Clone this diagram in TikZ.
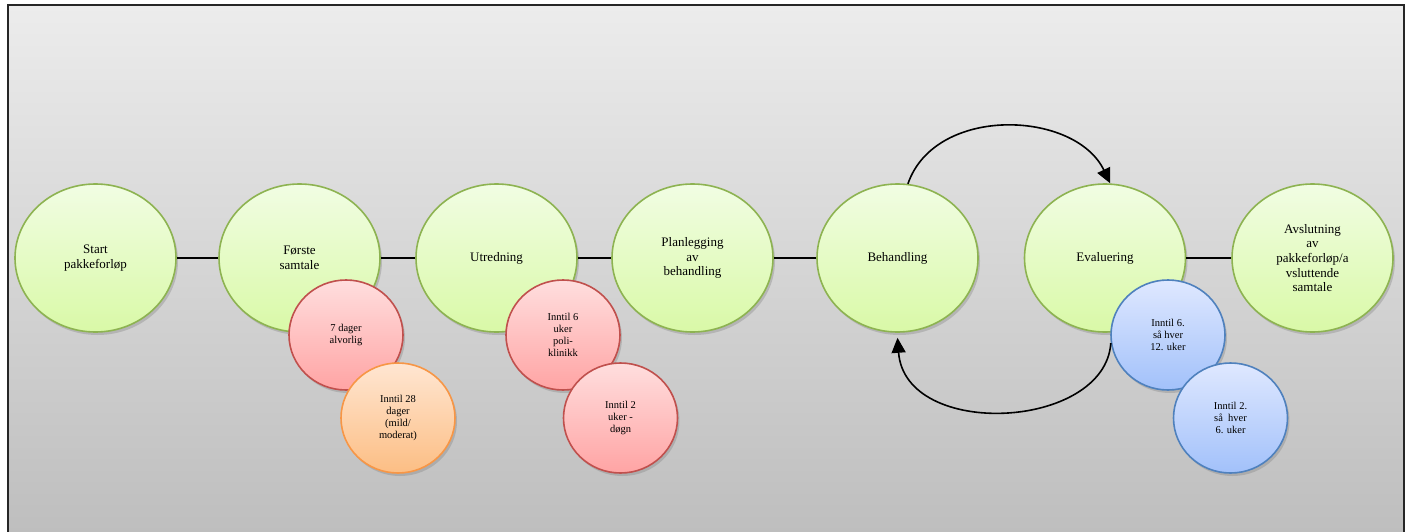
\documentclass[tikz,border=0pt]{standalone}
\usepackage{fontspec}
\setmainfont{Liberation Serif}
\usetikzlibrary{shapes.geometric,shadows,arrows.meta}

\begin{document}
\begin{tikzpicture}[x=1pt,y=1pt,
    softshadow/.style={drop shadow={shadow xshift=2pt,shadow yshift=-3pt,opacity=.35}},
    stage/.style={ellipse,draw=stageline,line width=1.6pt,top color=stagetop,bottom color=stagebot,
      minimum width=161pt,minimum height=148pt,inner sep=0pt,align=center,
      font=\fontsize{13}{14.7}\selectfont,softshadow},
    period/.style={ellipse,line width=1.6pt,minimum width=114pt,minimum height=110pt,inner sep=0pt,
      align=center,font=\fontsize{10.5}{12}\selectfont,softshadow},
    redtime/.style={period,draw=redline,top color=redtop,bottom color=redbot},
    orangetime/.style={period,draw=orangeline,top color=orangetop,bottom color=orangebot},
    bluetime/.style={period,draw=blueline,top color=bluetop,bottom color=bluebot},
    loop/.style={line width=1.6pt,-{Triangle[length=15pt,width=14pt]}}]

    \definecolor{bgtop}{HTML}{ECECEC}
    \definecolor{bgbot}{HTML}{BDBDBD}
    \definecolor{stageline}{HTML}{8DB351}
    \definecolor{stagetop}{HTML}{F1FDE3}
    \definecolor{stagebot}{HTML}{D9F9A7}
    \definecolor{redline}{HTML}{C0504D}
    \definecolor{redtop}{HTML}{FFDEDE}
    \definecolor{redbot}{HTML}{FFA4A4}
    \definecolor{orangeline}{HTML}{F79646}
    \definecolor{orangetop}{HTML}{FFE6D2}
    \definecolor{orangebot}{HTML}{FCBE84}
    \definecolor{blueline}{HTML}{4F81BD}
    \definecolor{bluetop}{HTML}{DFE8FF}
    \definecolor{bluebot}{HTML}{A2C1FA}

    \useasboundingbox (0,0) rectangle (1410,-532);
    \draw[line width=2pt,draw=black!85,top color=bgtop,bottom color=bgbot] (8,-5) rectangle (1404,-545);

    \node[stage] (start) at (95.5,-258) {Start\\pakkeforløp};
    \node[stage] (forste) at (299.5,-258) {Første\\samtale};
    \node[stage] (utred) at (496.5,-258) {Utredning};
    \node[stage] (plan) at (692.5,-258) {Planlegging\\av\\behandling};
    \node[stage] (behand) at (897.5,-258) {Behandling};
    \node[stage] (eval) at (1105,-258) {Evaluering};
    \node[stage] (avslut) at (1312.5,-258) {Avslutning\\av\\pakkeforløp/a\\vsluttende\\samtale};

    \draw[line width=1.6pt] (start) -- (forste);
    \draw[line width=1.6pt] (forste) -- (utred);
    \draw[line width=1.6pt] (utred) -- (plan);
    \draw[line width=1.6pt] (plan) -- (behand);
    \draw[line width=1.6pt] (eval) -- (avslut);

    \node[redtime] (forste1) at (346,-335) {7 dager\\alvorlig};
    \node[orangetime] (forste2) at (398,-418) {Inntil 28\\dager\\(mild/\\moderat)};
    \node[redtime] (utred1) at (563,-335) {Inntil 6\\uker\\poli-\\klinikk};
    \node[redtime] (utred2) at (620.5,-418) {Inntil 2\\uker -\\døgn};
    \node[bluetime] (eval1) at (1168,-335) {Inntil 6.\\så hver\\12. uker};
    \node[bluetime] (eval2) at (1230.5,-418) {Inntil 2.\\så\ \ hver\\6. uker};

    \draw[loop] (behand.82) .. controls (935,-105) and (1075,-110) .. (eval.86);
    \draw[loop] (eval1.188) .. controls (1105,-430) and (905,-440) .. ([yshift=-5pt]behand.south);

\end{tikzpicture}
\end{document}
